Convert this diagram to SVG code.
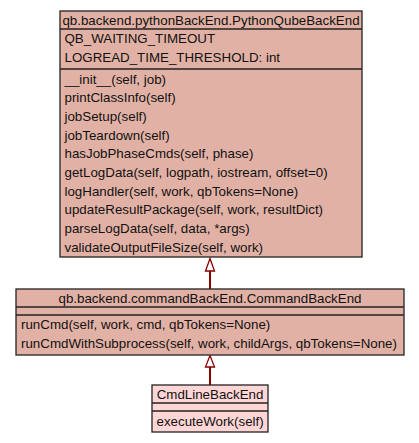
<svg xmlns="http://www.w3.org/2000/svg" width="419" height="443" viewBox="0 0 419 443">
<style>
  .box{fill:#e2b1a5;stroke:#222;stroke-width:1.3}
  .box2{fill:#ffd6d6;stroke:#222;stroke-width:1.3}
  .sep{stroke:#222;stroke-width:1.3}
  text{font-family:"Liberation Sans",Arial,Helvetica,sans-serif;font-size:13.33px;fill:#111}
  .c{text-anchor:middle}
  .edge{stroke:#8b0000;stroke-width:2;fill:none}
  .head{fill:#fff;stroke:#8b0000;stroke-width:1.3}
</style>
<rect width="419" height="443" fill="#fff"/>
<g id="connectors">
  <line class="edge" x1="210" y1="385" x2="210" y2="367"/>
  <polygon class="head" points="210,355.5 205.5,367 214.5,367"/>
  <line class="edge" x1="210" y1="289" x2="210" y2="271"/>
  <polygon class="head" points="210,258.5 205.5,271 214.5,271"/>
</g>
<g id="PythonQubeBackEnd">
  <rect class="box" x="60" y="11" width="302" height="246"/>
  <line class="sep" x1="60" y1="29" x2="362" y2="29"/>
  <line class="sep" x1="60" y1="69" x2="362" y2="69"/>
  <text class="c" x="211" y="25">qb.backend.pythonBackEnd.PythonQubeBackEnd</text>
  <text x="64.5" y="42.5">QB_WAITING_TIMEOUT</text>
  <text x="64.5" y="61.5">LOGREAD_TIME_THRESHOLD: int</text>
  <text x="64.5" y="83.5">__init__(self, job)</text>
  <text x="64.5" y="102.2">printClassInfo(self)</text>
  <text x="64.5" y="120.8">jobSetup(self)</text>
  <text x="64.5" y="139.5">jobTeardown(self)</text>
  <text x="64.5" y="158.2">hasJobPhaseCmds(self, phase)</text>
  <text x="64.5" y="176.8">getLogData(self, logpath, iostream, offset=0)</text>
  <text x="64.5" y="195.5">logHandler(self, work, qbTokens=None)</text>
  <text x="64.5" y="214.2">updateResultPackage(self, work, resultDict)</text>
  <text x="64.5" y="232.8">parseLogData(self, data, *args)</text>
  <text x="64.5" y="251.5">validateOutputFileSize(self, work)</text>
</g>
<g id="CommandBackEnd">
  <rect class="box" x="16" y="289" width="388" height="66"/>
  <line class="sep" x1="16" y1="307" x2="404" y2="307"/>
  <line class="sep" x1="16" y1="315" x2="404" y2="315"/>
  <text class="c" x="210" y="303">qb.backend.commandBackEnd.CommandBackEnd</text>
  <text x="21" y="328.5">runCmd(self, work, cmd, qbTokens=None)</text>
  <text x="21" y="347.5">runCmdWithSubprocess(self, work, childArgs, qbTokens=None)</text>
</g>
<g id="CmdLineBackEnd">
  <rect class="box2" x="152" y="385" width="116" height="47"/>
  <line class="sep" x1="152" y1="403" x2="268" y2="403"/>
  <line class="sep" x1="152" y1="411" x2="268" y2="411"/>
  <text class="c" x="210" y="398.5">CmdLineBackEnd</text>
  <text x="156.5" y="425.5">executeWork(self)</text>
</g>
</svg>
